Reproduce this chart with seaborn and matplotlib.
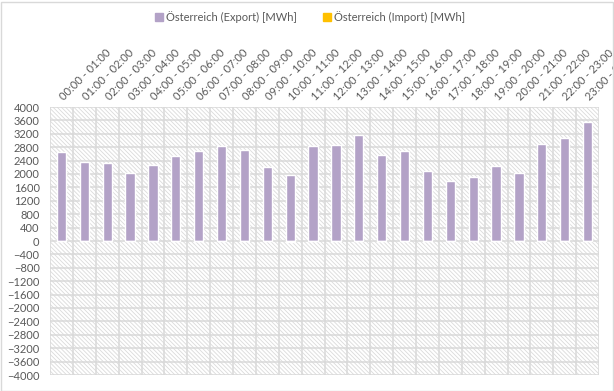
import numpy as np
import pandas as pd
import matplotlib
matplotlib.use("Agg")
import matplotlib.pyplot as plt
import seaborn as sns
from matplotlib.patches import Rectangle, Patch

# Daten (stündlich)
hours = [f"{h:02d}:00 - {h + 1:02d}:00" for h in range(24)]
export_mwh = [2660, 2365, 2335, 2035, 2275, 2545, 2695, 2845,
              2725, 2215, 1975, 2845, 2875, 3175, 2575, 2695,
              2095, 1795, 1915, 2245, 2035, 2905, 3085, 3560]
import_mwh = [0, 0, 0, 0, 0, 0, 0, 0,
              0, 0, -25, 0, 0, 0, 0, 0,
              0, 0, 0, 0, 0, 0, 0, 0]

lbl_exp = "Österreich (Export) [MWh]"
lbl_imp = "Österreich (Import) [MWh]"
c_exp = "#b3a2c7"
c_imp = "#ffc000"
txt = "#595959"
grid_c = "#d9d9d9"

df = pd.DataFrame({
    "Stunde": hours * 2,
    "Wert": export_mwh + import_mwh,
    "Serie": [lbl_exp] * 24 + [lbl_imp] * 24,
})

sns.set_style("white")
plt.rcParams["font.family"] = ["Lato", "DejaVu Sans"]
plt.rcParams["hatch.linewidth"] = 0.6
plt.rcParams["hatch.color"] = "#dadada"

fig = plt.figure(figsize=(6.14, 3.91), dpi=100)
ax = fig.add_axes([50 / 614, 1 - 375 / 391, 549 / 614, 268 / 391])

# schraffierter Hintergrund
ax.add_patch(Rectangle((0, 0), 1, 1, transform=ax.transAxes, facecolor="white",
                       edgecolor="#dadada", hatch="\\" * 8, linewidth=0, zorder=0))

sns.barplot(data=df, x="Stunde", y="Wert", hue="Serie", dodge=False,
            palette=[c_exp, c_imp], width=0.4, saturation=1, legend=False,
            ax=ax, zorder=3)

ax.set_ylim(-4000, 4000)
ax.set_xlim(-0.5, 23.5)
ax.set_yticks(np.arange(-4000, 4001, 400))
for y in np.arange(-4000, 4001, 400):
    ax.axhline(y, color=grid_c, linewidth=1.1, zorder=1)
for x in np.arange(-0.5, 24, 1):
    ax.axvline(x, color=grid_c, linewidth=1.1, zorder=1)

for s in ax.spines.values():
    s.set_visible(False)

ax.set_xlabel("")
ax.set_ylabel("")
ax.xaxis.tick_top()
ax.tick_params(axis="x", length=0, pad=6, labelsize=8, labelcolor=txt)
ax.tick_params(axis="y", length=0, pad=7.5, labelsize=8, labelcolor=txt)
plt.setp(ax.get_xticklabels(), rotation=45, ha="left", va="center",
         rotation_mode="anchor")

handles = [Patch(color=c_exp, label=lbl_exp), Patch(color=c_imp, label=lbl_imp)]
fig.legend(handles=handles, loc="center", bbox_to_anchor=(0.505, 1 - 17 / 391),
           ncol=2, frameon=False, fontsize=8, labelcolor=txt,
           handlelength=0.7, handleheight=0.7, handletextpad=0.3,
           columnspacing=2.3)

# Rahmen um das Diagramm
fig.add_artist(Rectangle((0.5 / 614, 0.5 / 391), 612 / 614, 389 / 391,
                         transform=fig.transFigure, fill=False,
                         edgecolor=grid_c, linewidth=1.0))

fig.savefig("out.png", dpi=100)
